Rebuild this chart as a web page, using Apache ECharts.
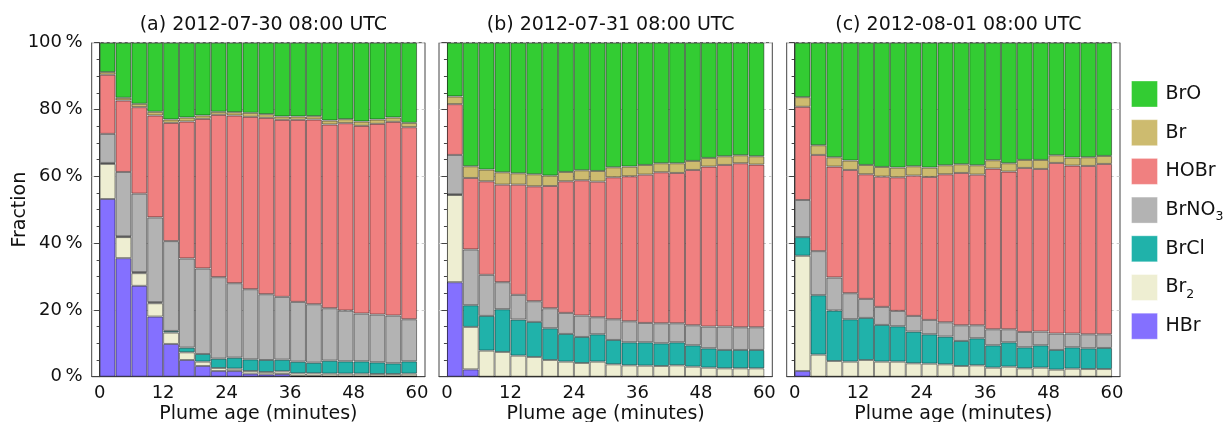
<!DOCTYPE html>
<html><head><meta charset="utf-8">
<script src="https://cdn.jsdelivr.net/npm/echarts@6/dist/echarts.min.js"></script>
<style>html,body{margin:0;padding:0;background:#fff}#c{width:1223px;height:422px}</style>
</head><body><div id="c"></div>
<script>
// Plume age bin centres (minutes), 3-minute bins from 0 to 60
const ageBins = [1.5,4.5,7.5,10.5,13.5,16.5,19.5,22.5,25.5,28.5,31.5,34.5,37.5,40.5,43.5,46.5,49.5,52.5,55.5,58.5];
const xTickValues = [0,12,24,36,48,60];
const panelTitles = ['(a) 2012-07-30 08:00 UTC','(b) 2012-07-31 08:00 UTC','(c) 2012-08-01 08:00 UTC'];
const species = ['HBr','Br2','BrCl','BrNO3','HOBr','Br','BrO'];   // stacking order, bottom to top
const legendOrder = ['BrO','Br','HOBr','BrNO3','BrCl','Br2','HBr'];
const speciesColors = {HBr:'#8470ff',Br2:'#eeeed2',BrCl:'#20b2aa',BrNO3:'#b3b3b3',HOBr:'#f08080',Br:'#cdbb6f',BrO:'#33cc33'};

// (a) 2012-07-30 — fractions in %
const a_HBr   = [53.2,35.5,27.2,18.0,9.8,5.0,3.2,1.7,1.7,0.9,0.7,0.8,0.2,0.2,0.1,0.1,0.1,0.1,0.1,0.1];
const a_Br2   = [10.5,6.3,3.8,4.0,3.4,2.3,1.3,0.9,0.7,0.8,0.7,0.8,0.8,0.8,0.8,0.8,0.8,0.7,0.7,0.8];
const a_BrCl  = [0.3,0.2,0.3,0.3,0.5,1.4,2.3,2.8,3.3,3.5,3.6,3.5,3.5,3.2,3.9,3.7,3.7,3.5,3.2,3.7];
const a_BrNO3 = [8.7,19.3,23.5,25.4,26.9,26.7,25.6,24.4,22.3,21.0,19.7,18.8,17.9,17.5,15.7,15.2,14.3,14.3,14.3,12.6];
const a_HOBr  = [17.7,21.4,25.9,30.5,35.4,41.0,44.8,48.6,50.2,51.6,52.8,53.0,54.5,55.3,55.0,56.1,56.2,57.1,58.0,57.5];
const a_Br    = [0.8,0.8,1.0,1.1,1.0,1.2,1.0,0.9,1.0,1.2,1.1,1.0,1.0,1.0,1.2,1.2,1.3,1.3,1.3,1.3];
const a_BrO   = [8.8,16.5,18.3,20.7,23.0,22.4,21.8,20.7,20.8,21.0,21.4,22.1,22.1,22.0,23.3,22.9,23.6,23.0,22.4,24.0];

// (b) 2012-07-31
const b_HBr   = [28.3,2.2,0,0,0,0,0,0,0,0,0,0,0,0,0,0,0,0,0,0];
const b_Br2   = [26.1,12.7,7.8,7.4,6.3,5.9,5.0,4.5,4.1,4.5,3.7,3.4,3.3,3.2,3.4,3.0,2.7,2.5,2.5,2.5];
const b_BrCl  = [0.2,6.5,10.4,12.8,10.8,10.5,9.5,8.3,7.8,8.2,7.3,6.9,7.0,6.8,6.9,6.4,5.8,5.5,5.5,5.5];
const b_BrNO3 = [11.8,16.7,12.3,8.1,7.4,6.2,6.0,6.3,6.4,5.1,6.2,6.3,5.8,6.0,5.7,6.0,6.5,7.0,6.8,6.8];
const b_HOBr  = [15.2,21.4,28.0,29.2,33.0,34.4,36.6,39.4,40.5,40.6,42.5,43.4,44.4,45.2,45.0,46.5,47.9,48.4,49.1,48.7];
const b_Br    = [2.3,3.5,3.5,3.7,3.4,3.6,3.1,2.8,3.0,3.2,3.0,2.9,2.9,2.7,2.9,2.7,2.6,2.6,2.4,2.5];
const b_BrO   = [16.1,37.0,38.0,38.8,39.1,39.4,39.8,38.7,38.2,38.4,37.3,37.1,36.6,36.1,36.1,35.4,34.5,34.0,33.7,34.0];

// (c) 2012-08-01
const c_HBr   = [1.7,0,0,0,0,0,0,0,0,0,0,0,0,0,0,0,0,0,0,0];
const c_Br2   = [34.5,6.6,4.7,4.5,5.0,4.5,4.5,4.0,3.9,3.7,3.2,3.4,2.7,3.0,2.5,2.7,2.1,2.4,2.3,2.3];
const c_BrCl  = [5.6,17.8,15.1,12.7,12.6,11.0,10.6,9.5,8.8,8.3,7.5,8.1,6.7,7.3,6.3,6.7,5.9,6.4,6.2,6.3];
const c_BrNO3 = [11.1,13.2,9.9,7.8,5.7,5.4,4.6,4.7,4.3,4.3,4.7,3.9,4.8,3.9,4.6,4.1,4.9,4.1,4.2,4.1];
const c_HOBr  = [27.9,28.8,33.2,36.9,37.3,39.0,40.0,42.0,42.8,44.3,45.6,45.1,48.1,47.2,49.1,48.7,51.1,50.3,50.4,51.0];
const c_Br    = [2.9,2.9,2.8,2.8,2.8,2.9,2.9,2.8,2.8,2.7,2.6,2.8,2.5,2.5,2.4,2.7,2.3,2.4,2.6,2.4];
const c_BrO   = [16.3,30.7,34.3,35.3,36.6,37.2,37.4,37.0,37.4,36.7,36.4,36.7,35.2,36.1,35.1,35.1,33.7,34.4,34.3,33.9];

const panels = [
  {HBr:a_HBr,Br2:a_Br2,BrCl:a_BrCl,BrNO3:a_BrNO3,HOBr:a_HOBr,Br:a_Br,BrO:a_BrO},
  {HBr:b_HBr,Br2:b_Br2,BrCl:b_BrCl,BrNO3:b_BrNO3,HOBr:b_HOBr,Br:b_Br,BrO:b_BrO},
  {HBr:c_HBr,Br2:c_Br2,BrCl:c_BrCl,BrNO3:c_BrNO3,HOBr:c_HOBr,Br:c_Br,BrO:c_BrO}
];

const FONT = 'DejaVu Sans';
const gridLefts = [91.7, 439, 786.7];
const gridTop = 42.7, gridW = 333.3, gridH = 334;
const xMin = -1.5, xMax = 61.5;
const barW = gridW * 3 / (xMax - xMin);

const grids = [], xAxes = [], yAxes = [], titles = [], series = [];
panels.forEach((p, i) => {
  grids.push({left: gridLefts[i], top: gridTop, width: gridW, height: gridH, outerBoundsMode: 'none', containLabel: false,
    show: true, borderColor: '#444', borderWidth: 1, backgroundColor: 'transparent'});
  titles.push({text: panelTitles[i], left: gridLefts[i] + gridW / 2, top: 11, textAlign: 'center',
    textStyle: {fontFamily: FONT, fontSize: 19, fontWeight: 'normal', color: '#111'}});
  xAxes.push({gridIndex: i, type: 'value', min: xMin, max: xMax,
    name: 'Plume age (minutes)', nameLocation: 'middle', nameGap: 28, nameMoveOverlap: false,
    nameTextStyle: {fontFamily: FONT, fontSize: 19, color: '#111'},
    axisLine: {show: true, lineStyle: {color: '#444'}},
    axisTick: {show: false},
    splitLine: {show: false},
    axisLabel: {customValues: xTickValues, fontFamily: FONT, fontSize: 18, color: '#111', margin: 8}
  });
  yAxes.push({gridIndex: i, type: 'value', min: 0, max: 100, interval: 20,
    name: i === 0 ? 'Fraction' : '', nameLocation: 'middle', nameGap: 62, nameRotate: 90, nameMoveOverlap: false,
    nameTextStyle: {fontFamily: FONT, fontSize: 19, color: '#111'},
    axisLine: {show: true, lineStyle: {color: '#444'}},
    axisTick: {show: true, inside: false, length: 5.5, lineStyle: {color: '#444'}},
    minorTick: {show: true, splitNumber: 4, length: 3, lineStyle: {color: '#444'}},
    splitLine: {show: true, lineStyle: {color: '#cccccc', type: [3, 3], width: 1}},
    axisLabel: {show: i === 0, formatter: v => v + '\u2009%', fontFamily: FONT, fontSize: 18, color: '#111', margin: 9}
  });
  species.forEach(s => {
    series.push({
      type: 'bar', name: s, xAxisIndex: i, yAxisIndex: i, stack: 'p' + i,
      barWidth: barW, itemStyle: {color: speciesColors[s], borderColor: 'rgba(0,0,0,0.45)', borderWidth: 1},
      emphasis: {disabled: true}, animation: false,
      // dimension 0 = fraction (stacked, y), dimension 1 = plume age (x)
      encode: {x: 1, y: 0},
      data: ageBins.map((t, k) => [p[s][k], t])
    });
  });
});

const legendLabel = {BrNO3: '{n|BrNO}{s|3}', Br2: '{n|Br}{s|2}'};
const chart = echarts.init(document.getElementById('c'), null, {renderer: 'canvas'});
chart.setOption({
  animation: false,
  title: titles,
  grid: grids, xAxis: xAxes, yAxis: yAxes,
  legend: {
    orient: 'vertical', left: 1131, top: 80.5, itemWidth: 26, itemHeight: 26, itemGap: 11.7,
    icon: 'rect', data: legendOrder, selectedMode: false, padding: 0,
    itemStyle: {borderWidth: 1, borderColor: 'rgba(255,255,255,0.35)'},
    formatter: name => legendLabel[name] || ('{n|' + name + '}'),
    textStyle: {fontFamily: FONT, fontSize: 19, color: '#111', overflow: 'none', width: 90,
      rich: {
        n: {fontFamily: FONT, fontSize: 19, color: '#111', lineHeight: 26, padding: [0, 0, 0, 3]},
        s: {fontFamily: FONT, fontSize: 12.5, color: '#111', lineHeight: 12, padding: [14, 0, 0, 0]}
      }}
  },
  series: series
});
</script></body></html>
